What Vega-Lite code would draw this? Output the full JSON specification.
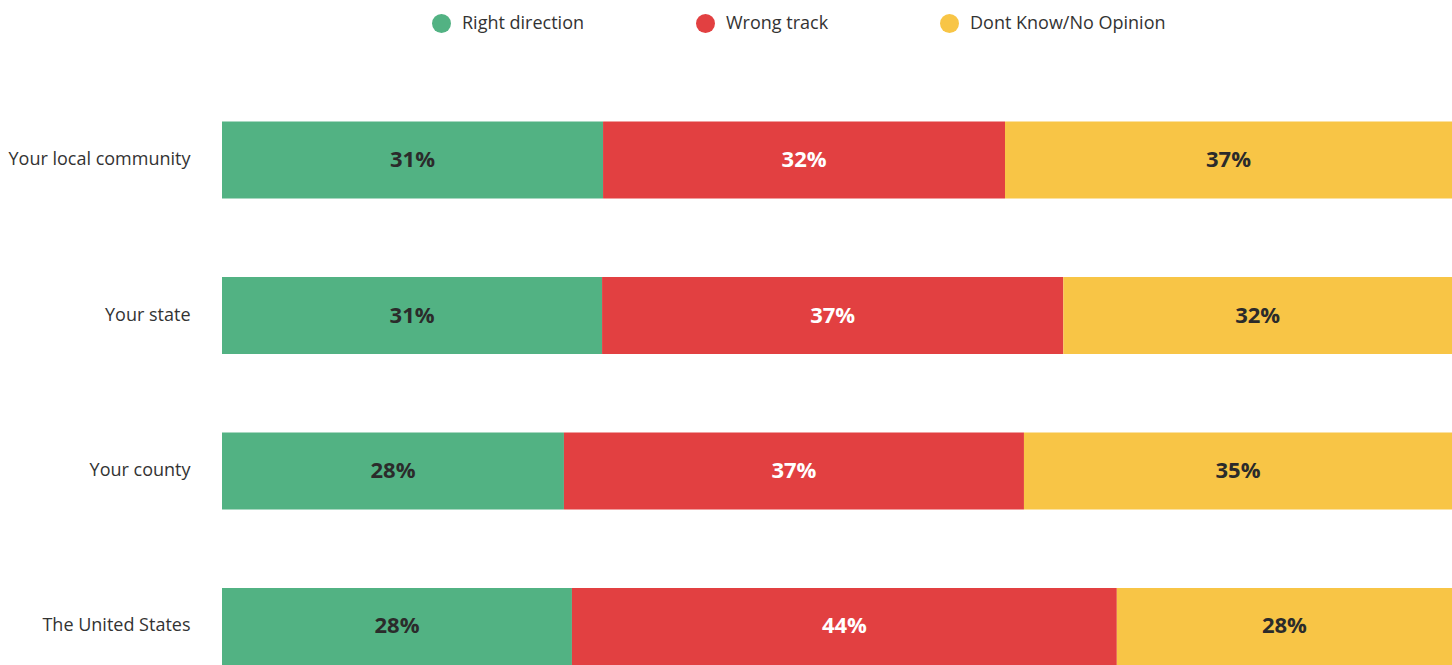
{
  "$schema": "https://vega.github.io/schema/vega-lite/v6.json",
  "autosize": "none",
  "width": 1230,
  "height": 581,
  "padding": {"left": 222, "top": 84, "right": 0, "bottom": 0},
  "background": "white",
  "config": {"view": {"stroke": null}, "font": "Open Sans"},
  "data": {
    "values": [
      {"area": "Your local community", "status": "Right direction", "k": 1, "value": 30.98, "label": "31%"},
      {"area": "Your local community", "status": "Wrong track", "k": 2, "value": 32.68, "label": "32%"},
      {"area": "Your local community", "status": "Dont Know/No Opinion", "k": 3, "value": 36.34, "label": "37%"},
      {"area": "Your state", "status": "Right direction", "k": 1, "value": 30.9, "label": "31%"},
      {"area": "Your state", "status": "Wrong track", "k": 2, "value": 37.5, "label": "37%"},
      {"area": "Your state", "status": "Dont Know/No Opinion", "k": 3, "value": 31.6, "label": "32%"},
      {"area": "Your county", "status": "Right direction", "k": 1, "value": 27.8, "label": "28%"},
      {"area": "Your county", "status": "Wrong track", "k": 2, "value": 37.4, "label": "37%"},
      {"area": "Your county", "status": "Dont Know/No Opinion", "k": 3, "value": 34.8, "label": "35%"},
      {"area": "The United States", "status": "Right direction", "k": 1, "value": 28.45, "label": "28%"},
      {"area": "The United States", "status": "Wrong track", "k": 2, "value": 44.3, "label": "44%"},
      {"area": "The United States", "status": "Dont Know/No Opinion", "k": 3, "value": 27.25, "label": "28%"}
    ]
  },
  "encoding": {
    "y": {
      "field": "area",
      "type": "nominal",
      "sort": ["Your local community", "Your state", "Your county", "The United States"],
      "scale": {"paddingInner": 0.5048, "paddingOuter": 0.1206, "align": 1},
      "axis": {"title": null, "domain": false, "ticks": false, "labelFontSize": 18, "labelColor": "#333333", "labelPadding": 32, "labelFont": "Open Sans", "labelLimit": 0}
    }
  },
  "layer": [
    {
      "mark": {"type": "bar"},
      "encoding": {
        "x": {"field": "value", "type": "quantitative", "stack": "zero", "scale": {"domain": [0, 100], "nice": false}, "axis": null},
        "color": {
          "field": "status",
          "type": "nominal",
          "scale": {"domain": ["Right direction", "Wrong track", "Dont Know/No Opinion"], "range": ["#52b283", "#e24041", "#f8c546"]},
          "legend": {
            "title": null,
            "orient": "none",
            "direction": "horizontal",
            "legendX": 209,
            "legendY": -71,
            "symbolType": "circle",
            "symbolSize": 360,
            "symbolOpacity": 1,
            "labelFontSize": 18,
            "labelColor": "#333333",
            "labelFont": "Open Sans",
            "labelLimit": 0,
            "labelOffset": 10,
            "columnPadding": 110
          }
        },
        "order": {"field": "k", "type": "quantitative"}
      }
    },
    {
      "mark": {"type": "text", "fontSize": 22, "fontWeight": "bold", "font": "Open Sans"},
      "encoding": {
        "x": {"field": "value", "type": "quantitative", "stack": "zero", "bandPosition": 0.5},
        "detail": {"field": "status", "type": "nominal"},
        "order": {"field": "k", "type": "quantitative"},
        "text": {"field": "label", "type": "nominal"},
        "color": {"condition": {"test": "datum.status === 'Wrong track'", "value": "#ffffff"}, "value": "#2b2b2b"}
      }
    }
  ]
}
